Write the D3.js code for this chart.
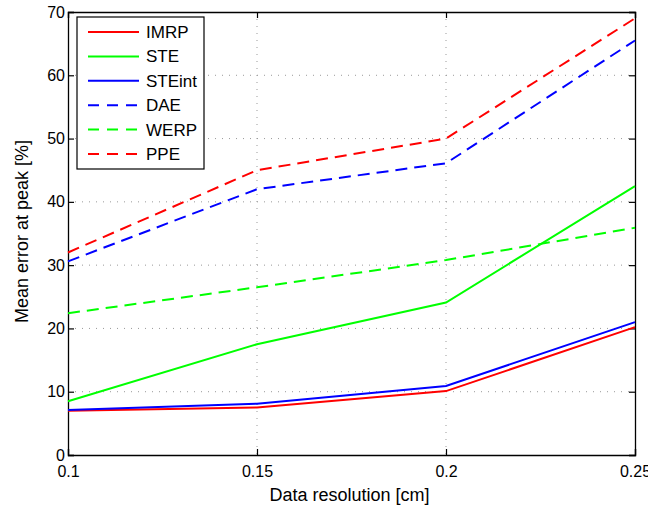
<!doctype html>
<html>
<head>
<meta charset="utf-8">
<title>Mean error at peak</title>
<style>
  body { margin: 0; background: #fff; }
  svg text { font-family: "Liberation Sans", Arial, sans-serif; fill: #000; }
</style>
</head>
<body>
<div id="chart"></div>
<script src="https://cdn.jsdelivr.net/npm/d3@7"></script>
<script>
// data
var resolutions = [0.1, 0.15, 0.2, 0.25];
var xTicks = [0.1, 0.15, 0.2, 0.25];
var yTicks = [0, 10, 20, 30, 40, 50, 60, 70];

var imrp   = [7.0, 7.5, 10.1, 20.2];
var ste    = [8.5, 17.5, 24.1, 42.5];
var steint = [7.1, 8.1, 10.9, 21.0];
var dae    = [30.6, 42.0, 46.1, 65.5];
var werp   = [22.4, 26.5, 30.8, 35.9];
var ppe    = [32.0, 45.0, 50.0, 69.0];

var series = [
  {name: "IMRP",   values: imrp,   color: "#ff0000", dash: null},
  {name: "STE",    values: ste,    color: "#00ff00", dash: null},
  {name: "STEint", values: steint, color: "#0000ff", dash: null},
  {name: "DAE",    values: dae,    color: "#0000ff", dash: "12,7"},
  {name: "WERP",   values: werp,   color: "#00ff00", dash: "12,7"},
  {name: "PPE",    values: ppe,    color: "#ff0000", dash: "12,7"}
];

var W = 648, H = 509;
var margin = {top: 12, right: 13, bottom: 54, left: 68};
var iw = W - margin.left - margin.right;
var ih = H - margin.top - margin.bottom;

var svg = d3.select("#chart").append("svg")
  .attr("width", W).attr("height", H);

var g = svg.append("g")
  .attr("transform", "translate(" + margin.left + "," + margin.top + ")");

var x = d3.scaleLinear().domain([0.1, 0.25]).range([0, iw]);
var y = d3.scaleLinear().domain([0, 70]).range([ih, 0]);

// grid (dotted)
g.append("g").selectAll("line").data(xTicks.slice(1, -1)).enter().append("line")
  .attr("x1", function(d) { return x(d); }).attr("x2", function(d) { return x(d); })
  .attr("y1", 0).attr("y2", ih)
  .attr("stroke", "#999").attr("stroke-width", 1).attr("stroke-dasharray", "1,6");
g.append("g").selectAll("line").data(yTicks.slice(1, -1)).enter().append("line")
  .attr("x1", 0).attr("x2", iw)
  .attr("y1", function(d) { return y(d); }).attr("y2", function(d) { return y(d); })
  .attr("stroke", "#999").attr("stroke-width", 1).attr("stroke-dasharray", "1,6");

// axes: ticks inward, on all four sides
var fmt = function(d) { return String(d); };
var xAxis = g.append("g").attr("transform", "translate(0," + ih + ")")
  .call(d3.axisBottom(x).tickValues(xTicks).tickSize(-6).tickPadding(11).tickFormat(fmt));
var yAxis = g.append("g")
  .call(d3.axisLeft(y).tickValues(yTicks).tickSize(-6).tickPadding(3).tickFormat(fmt));
var xTop = g.append("g")
  .call(d3.axisTop(x).tickValues(xTicks).tickSize(-6).tickFormat(""));
var yRight = g.append("g").attr("transform", "translate(" + iw + ",0)")
  .call(d3.axisRight(y).tickValues(yTicks).tickSize(-6).tickFormat(""));

[xAxis, yAxis, xTop, yRight].forEach(function(a) {
  a.select(".domain").attr("stroke", "#000").attr("stroke-width", 1.3);
  a.selectAll(".tick line").attr("stroke", "#000").attr("stroke-width", 1.2);
  a.selectAll("text").attr("font-size", "16px")
    .attr("font-family", "'Liberation Sans', Arial, sans-serif").attr("fill", "#000");
});

// lines
var line = d3.line()
  .x(function(d, i) { return x(resolutions[i]); })
  .y(function(d) { return y(d); });

series.forEach(function(s) {
  g.append("path")
    .attr("d", line(s.values))
    .attr("fill", "none")
    .attr("stroke", s.color)
    .attr("stroke-width", 2)
    .attr("stroke-dasharray", s.dash);
});

// legend
var legend = g.append("g").attr("transform", "translate(9,5)");
legend.append("rect")
  .attr("width", 127).attr("height", 152)
  .attr("fill", "#fff").attr("stroke", "#000").attr("stroke-width", 1.2);
var item = legend.selectAll(".item").data(series).enter().append("g")
  .attr("class", "item")
  .attr("transform", function(d, i) { return "translate(0," + (15 + i * 24.4) + ")"; });
item.append("line")
  .attr("x1", 11).attr("x2", 62)
  .attr("stroke", function(d) { return d.color; })
  .attr("stroke-width", 2)
  .attr("stroke-dasharray", function(d) { return d.dash ? "11,8" : null; });
item.append("text")
  .attr("x", 69).attr("y", 6)
  .attr("font-size", "17px")
  .text(function(d) { return d.name; });

// axis labels
svg.append("text")
  .attr("x", margin.left + iw / 2 - 2).attr("y", 501)
  .attr("text-anchor", "middle").attr("font-size", "18px")
  .text("Data resolution [cm]");
svg.append("text")
  .attr("transform", "translate(28," + (margin.top + ih / 2 - 2) + ") rotate(-90)")
  .attr("text-anchor", "middle").attr("font-size", "18px")
  .text("Mean error at peak [%]");
</script>
</body>
</html>
